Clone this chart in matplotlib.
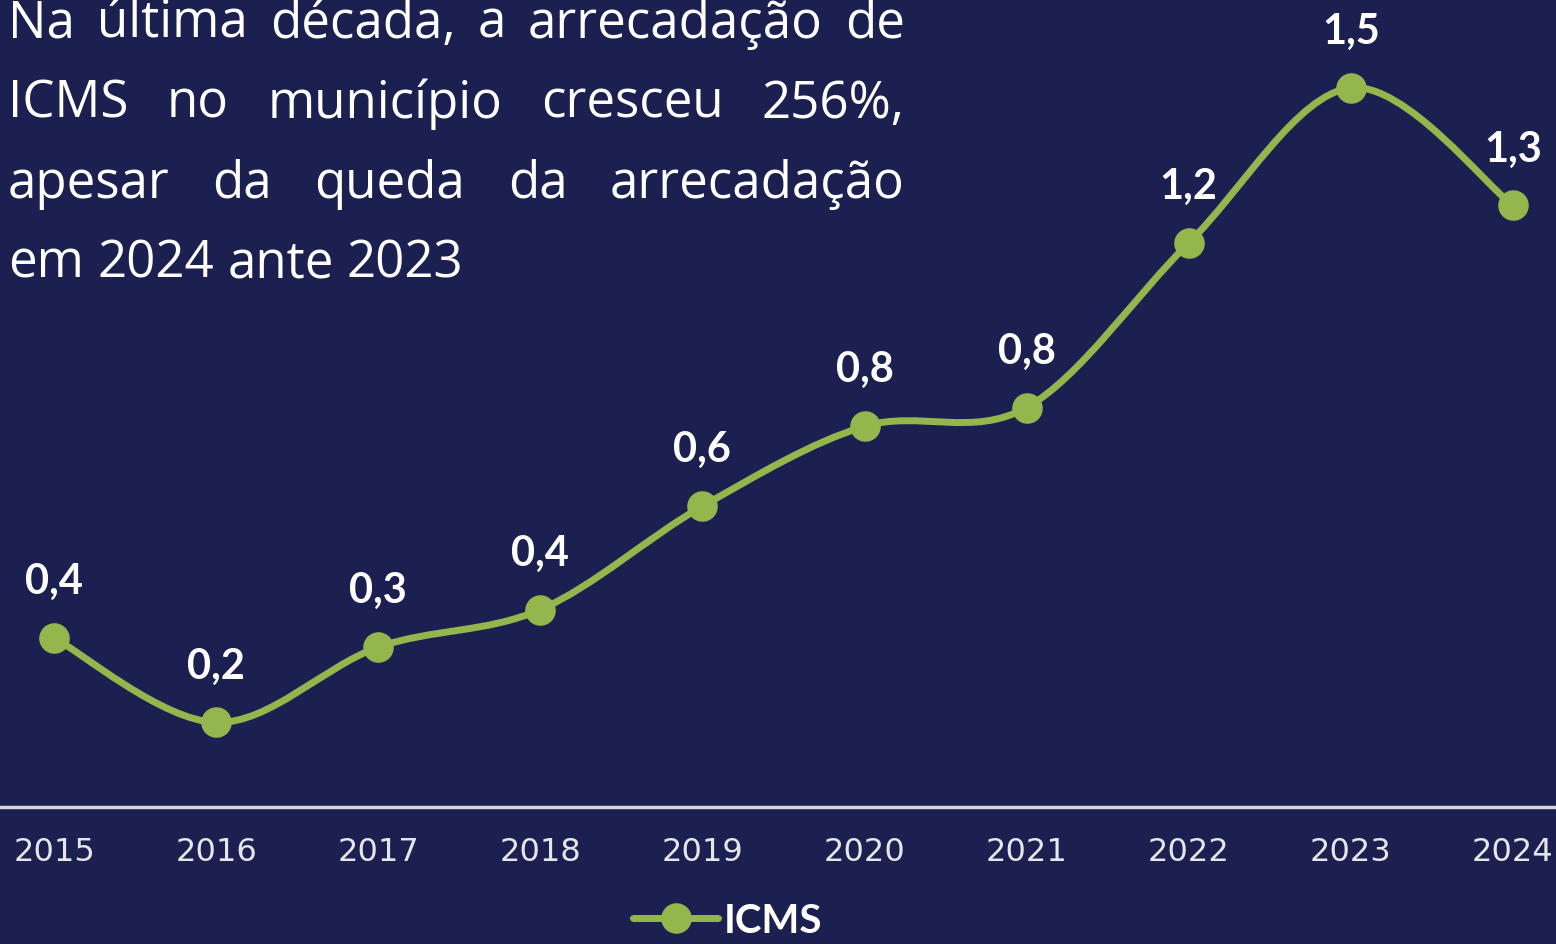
import matplotlib
matplotlib.use("Agg")
import matplotlib.pyplot as plt
from matplotlib.path import Path
from matplotlib.patches import PathPatch
from matplotlib.lines import Line2D

# data (R$ bilhões, approx.)
years = [2015, 2016, 2017, 2018, 2019, 2020, 2021, 2022, 2023, 2024]
icms = [0.36, 0.18, 0.34, 0.42, 0.64, 0.81, 0.85, 1.20, 1.53, 1.28]
labels = ["0,4", "0,2", "0,3", "0,4", "0,6", "0,8", "0,8", "1,2", "1,5", "1,3"]
title_lines = [
    "Na última década, a arrecadação de",
    "ICMS no município cresceu 256%,",
    "apesar da queda da arrecadação",
    "em 2024 ante 2023",
]

bg = "#1b2050"
green = "#95b64c"
W, H = 1556, 945

fig = plt.figure(figsize=(W / 100, H / 100), dpi=100, facecolor=bg)
ax = fig.add_axes([0, 137 / H, 1, (H - 137) / H])
ax.set_facecolor(bg)

# x scale: 2015 at 54px, 162.1px per year
ax.set_xlim(2015 - 54 / 162.1, 2015 - 54 / 162.1 + W / 162.1)
ax.set_ylim(0, (H - 137) / 470)

# smoothed line (bezier through the points, like a spreadsheet "smooth line")
n = len(years)
verts = [(years[0], icms[0])]
codes = [Path.MOVETO]
for i in range(n - 1):
    p0 = (years[max(i - 1, 0)], icms[max(i - 1, 0)])
    p1 = (years[i], icms[i])
    p2 = (years[i + 1], icms[i + 1])
    p3 = (years[min(i + 2, n - 1)], icms[min(i + 2, n - 1)])
    c1 = (p1[0] + (p2[0] - p0[0]) / 6, p1[1] + (p2[1] - p0[1]) / 6)
    c2 = (p2[0] - (p3[0] - p1[0]) / 6, p2[1] - (p3[1] - p1[1]) / 6)
    verts += [c1, c2, p2]
    codes += [Path.CURVE4] * 3
ax.add_patch(PathPatch(Path(verts, codes), facecolor="none", edgecolor=green,
                       lw=5, capstyle="round", zorder=2))
ax.plot(years, icms, "o", color=green, ms=21, zorder=3)

for x, y, lab in zip(years, icms, labels):
    ax.annotate(lab, (x, y), xytext=(0, 41), textcoords="offset points",
                ha="center", va="center", color="white", fontsize=30,
                fontweight="bold", family=["Lato", "DejaVu Sans"])

for s in ["top", "left", "right"]:
    ax.spines[s].set_visible(False)
ax.spines["bottom"].set_color("#d6d6dc")
ax.spines["bottom"].set_linewidth(2.5)
ax.set_yticks([])
ax.set_xticks(years)
ax.set_xticklabels([str(y) for y in years], color="#e6e6ea", fontsize=23,
                   family=["DejaVu Sans"])
ax.tick_params(axis="x", length=0, pad=21)

# legend at bottom
handle = Line2D([], [], color=green, lw=5, marker="o", ms=21, solid_capstyle="round")
leg = ax.legend([handle], ["ICMS"], loc="center", bbox_to_anchor=(728 / W, -(922 - 808) / (H - 137)),
                frameon=False, handlelength=2.1, handletextpad=0.15, borderpad=0,
                prop={"family": ["Lato", "DejaVu Sans"], "weight": "bold", "size": 29})
for t in leg.get_texts():
    t.set_color("white")

# justified title text
fig.canvas.draw()
rend = fig.canvas.get_renderer()
left, right = 8, 905
baselines = [38, 118, 198, 278]
fam = ["Open Sans", "DejaVu Sans"]
# pick size so the last (unjustified) line ends where it does in the chart
probe = fig.text(0, 0, title_lines[-1], fontsize=30, family=fam)
fs = 30 * (463 - left) / probe.get_window_extent(rend).width
probe.remove()
for k, line in enumerate(title_lines):
    words = line.split(" ")
    ypix = H - baselines[k]
    txts = []
    for w in words:
        t = fig.text(0, ypix / H, w, color="white", fontsize=fs,
                     family=fam, va="baseline", ha="left")
        txts.append(t)
    widths = [t.get_window_extent(rend).width for t in txts]
    if k < len(title_lines) - 1:
        gap = (right - left - sum(widths)) / (len(words) - 1)
    else:
        sp = fig.text(0, 0, "a a", fontsize=fs, family=fam)
        sp2 = fig.text(0, 0, "aa", fontsize=fs, family=fam)
        gap = sp.get_window_extent(rend).width - sp2.get_window_extent(rend).width
        sp.remove()
        sp2.remove()
    x = left
    for t, wd in zip(txts, widths):
        t.set_x(x / W)
        x += wd + gap

fig.savefig("out.png", dpi=100, facecolor=bg)
